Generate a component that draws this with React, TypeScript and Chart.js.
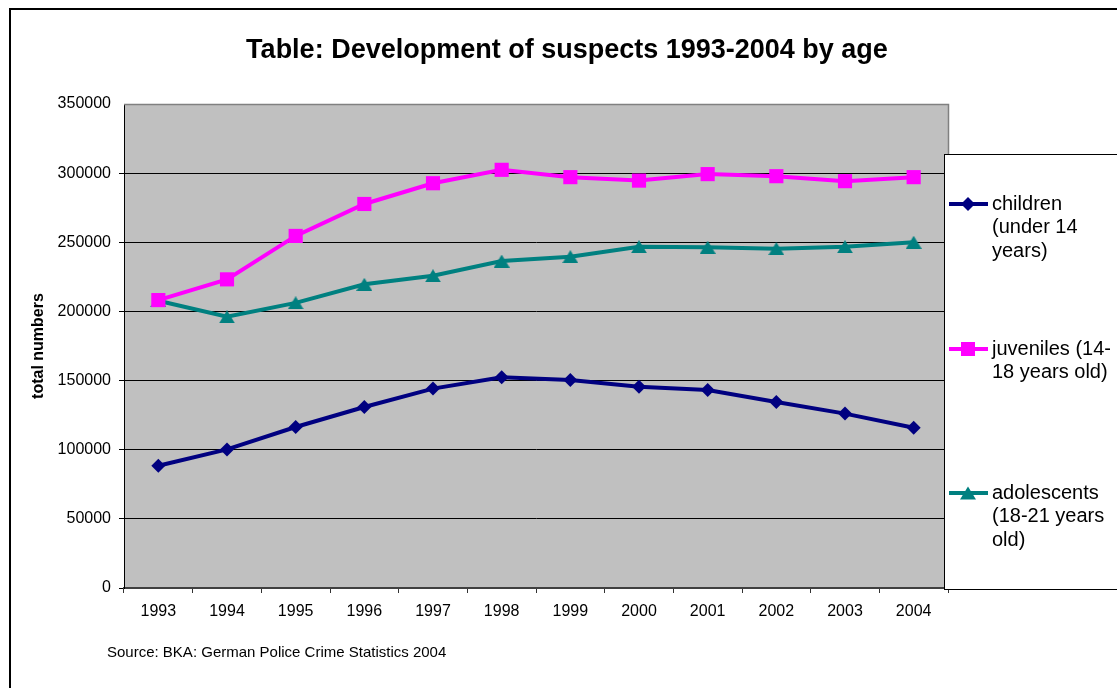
import { useEffect, useRef } from "react";
import { Chart, registerables } from "chart.js";

Chart.register(...registerables);

// Suspects by age group, 1993-2004
const years = ["1993", "1994", "1995", "1996", "1997", "1998", "1999", "2000", "2001", "2002", "2003", "2004"];
const children = [88400, 100200, 116400, 130900, 144200, 152400, 150400, 145600, 143200, 134500, 126100, 115900];
const juveniles = [208200, 223200, 254600, 277700, 292700, 302400, 297100, 294600, 299300, 297800, 294200, 297100];
const adolescents = [207700, 196100, 206200, 219600, 225800, 236400, 239600, 246800, 246400, 245400, 246800, 250000];
const seriesLabels = ["children\n(under 14\nyears)", "juveniles (14-\n18 years old)", "adolescents\n(18-21 years\nold)"];

const yMin = 0;
const yMax = 350000;
const yStep = 50000;

const titleText = "Table: Development of suspects 1993-2004 by age";
const yAxisTitle = "total numbers";
const sourceText = "Source: BKA: German Police Crime Statistics 2004";

const FONT = 'Arial, "Liberation Sans", sans-serif';
const NAVY = "#000080";
const MAGENTA = "#FF00FF";
const TEAL = "#008080";
const LINE_W = 4;

// Triangle marker centred on its bounding box
function makeTriangle(color: string, w: number, h: number): HTMLCanvasElement {
  const c = document.createElement("canvas");
  c.width = w;
  c.height = h;
  const g = c.getContext("2d")!;
  g.fillStyle = color;
  g.beginPath();
  g.moveTo(w / 2, 0);
  g.lineTo(w, h);
  g.lineTo(0, h);
  g.closePath();
  g.fill();
  return c;
}

function drawMarker(ctx: CanvasRenderingContext2D, kind: string, color: string, x: number, y: number) {
  ctx.fillStyle = color;
  ctx.beginPath();
  if (kind === "diamond") {
    ctx.moveTo(x, y - 7);
    ctx.lineTo(x + 7, y);
    ctx.lineTo(x, y + 7);
    ctx.lineTo(x - 7, y);
  } else if (kind === "square") {
    ctx.rect(x - 7, y - 7, 14, 14);
  } else {
    ctx.moveTo(x, y - 6.5);
    ctx.lineTo(x + 8, y + 6.5);
    ctx.lineTo(x - 8, y + 6.5);
  }
  ctx.closePath();
  ctx.fill();
}

const markerKinds = ["diamond", "square", "triangle"];

const decorPlugin = {
  id: "decor",
  beforeDraw(chart: any) {
    const { ctx, chartArea: a, width, height } = chart;
    ctx.save();
    ctx.fillStyle = "#fff";
    ctx.fillRect(0, 0, width, height);
    ctx.fillStyle = "#C0C0C0";
    ctx.fillRect(a.left, a.top, a.right - a.left, a.bottom - a.top);
    ctx.restore();
  },
  afterDraw(chart: any) {
    const { ctx, chartArea: a } = chart;
    ctx.save();

    // plot frame (top and right)
    ctx.strokeStyle = "#808080";
    ctx.lineWidth = 1.5;
    ctx.beginPath();
    ctx.moveTo(a.left, a.top + 0.5);
    ctx.lineTo(a.right + 0.5, a.top + 0.5);
    ctx.lineTo(a.right + 0.5, a.bottom);
    ctx.stroke();

    // legend box
    const lx = 944;
    const ly = 154;
    ctx.fillStyle = "#fff";
    ctx.fillRect(lx, ly, 200, 435);
    ctx.strokeStyle = "#000";
    ctx.lineWidth = 1;
    ctx.strokeRect(lx + 0.5, ly + 0.5, 200, 435);

    const firstLineY = [204, 349, 493];
    const lineGap = 23.5;
    ctx.font = `20px ${FONT}`;
    ctx.textAlign = "left";
    ctx.textBaseline = "middle";
    chart.data.datasets.forEach((ds: any, i: number) => {
      const y0 = firstLineY[i];
      ctx.strokeStyle = ds.borderColor;
      ctx.lineWidth = LINE_W;
      ctx.beginPath();
      ctx.moveTo(949, y0);
      ctx.lineTo(988, y0);
      ctx.stroke();
      drawMarker(ctx, markerKinds[i], ds.borderColor, 968, y0);
      ctx.fillStyle = "#000";
      String(ds.label)
        .split("\n")
        .forEach((line: string, j: number) => ctx.fillText(line, 992, y0 + j * lineGap));
    });

    // title
    ctx.fillStyle = "#000";
    ctx.font = `bold 27px ${FONT}`;
    ctx.textAlign = "center";
    ctx.fillText(titleText, 567, 51);

    // y-axis title
    ctx.save();
    ctx.translate(39, (a.top + a.bottom) / 2);
    ctx.rotate(-Math.PI / 2);
    ctx.font = `bold 16px ${FONT}`;
    ctx.fillText(yAxisTitle, 0, 0);
    ctx.restore();

    // source note
    ctx.font = `15px ${FONT}`;
    ctx.textAlign = "left";
    ctx.fillText(sourceText, 107, 653);

    // outer chart frame
    ctx.strokeStyle = "#000";
    ctx.lineWidth = 2;
    ctx.beginPath();
    ctx.moveTo(10, 700);
    ctx.lineTo(10, 9);
    ctx.lineTo(1130, 9);
    ctx.stroke();

    ctx.restore();
  },
};

export default function App() {
  const ref = useRef<HTMLCanvasElement | null>(null);

  useEffect(() => {
    const canvas = ref.current;
    if (!canvas) return;
    const tri = makeTriangle(TEAL, 16, 13);
    const chart = new Chart(canvas, {
      type: "line",
      data: {
        labels: years,
        datasets: [
          {
            label: seriesLabels[0],
            data: children,
            borderColor: NAVY,
            backgroundColor: NAVY,
            borderWidth: LINE_W,
            pointStyle: "rectRot",
            pointRadius: 7,
            pointBorderWidth: 0,
            tension: 0,
          },
          {
            label: seriesLabels[1],
            data: juveniles,
            borderColor: MAGENTA,
            backgroundColor: MAGENTA,
            borderWidth: LINE_W,
            pointStyle: "rect",
            pointRadius: 10,
            pointBorderWidth: 0,
            tension: 0,
          },
          {
            label: seriesLabels[2],
            data: adolescents,
            borderColor: TEAL,
            backgroundColor: TEAL,
            borderWidth: LINE_W,
            pointStyle: tri,
            pointRadius: 8,
            pointBorderWidth: 0,
            tension: 0,
          },
        ],
      },
      options: {
        responsive: false,
        animation: false,
        devicePixelRatio: 1,
        layout: { padding: { left: 0, top: 104, right: 169, bottom: 0 } },
        plugins: {
          legend: { display: false },
          title: { display: false },
          tooltip: { enabled: false },
        },
        scales: {
          x: {
            offset: true,
            afterFit: (s: any) => {
              s.height = 100;
            },
            grid: {
              offset: true,
              drawOnChartArea: false,
              drawTicks: true,
              tickLength: 5,
              color: "#333",
              lineWidth: 1,
            },
            border: { display: true, color: "#404040", width: 2 },
            ticks: {
              color: "#000",
              font: { family: FONT, size: 16 },
              padding: 9,
              maxRotation: 0,
              autoSkip: false,
            },
          },
          y: {
            min: yMin,
            max: yMax,
            afterFit: (s: any) => {
              s.width = 124;
            },
            grid: {
              color: (c: any) => (c.tick && c.tick.value === yMax ? "rgba(0,0,0,0)" : "#000"),
              lineWidth: 1,
              drawTicks: true,
              tickLength: 5,
            },
            border: { display: true, color: "#000", width: 1 },
            ticks: {
              stepSize: yStep,
              color: "#000",
              font: { family: FONT, size: 16 },
              padding: 8,
              callback: (v: any) => String(v),
            },
          },
        },
      },
      plugins: [decorPlugin],
    });
    return () => chart.destroy();
  }, []);

  return (
    <div style={{ position: "fixed", left: 0, top: 0, width: 1117, height: 688, background: "#fff" }}>
      <canvas ref={ref} width={1117} height={688} style={{ display: "block" }} />
    </div>
  );
}
